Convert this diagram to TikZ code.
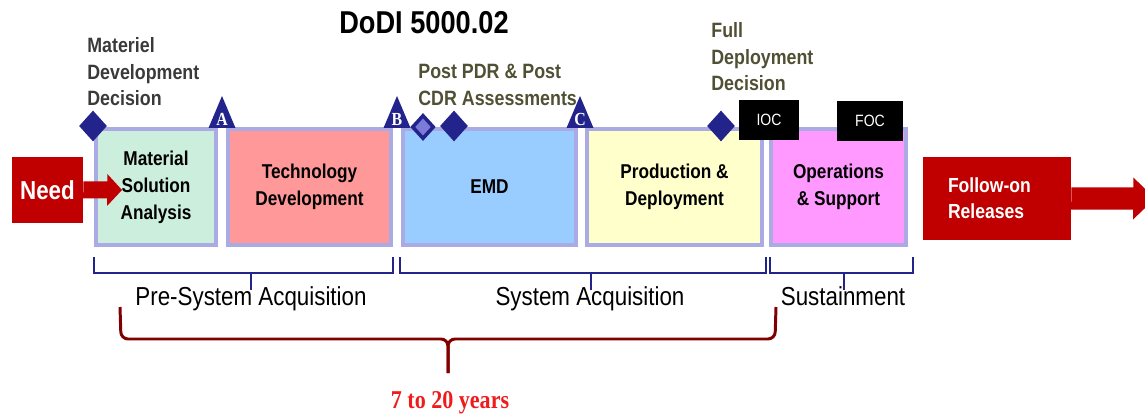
\documentclass[tikz,border=0pt]{standalone}
\usepackage{fontspec}
\setmainfont{Liberation Sans}[FakeStretch=0.86]
\newfontfamily\timesfont{Liberation Serif}[FakeStretch=0.86]
\usetikzlibrary{shapes.geometric}

\definecolor{msnavy}{HTML}{23238C}
\definecolor{mslight}{HTML}{7C7CD8}
\definecolor{phaseedge}{HTML}{AAAAE4}
\definecolor{msafill}{HTML}{CCEEDD}
\definecolor{tdfill}{HTML}{FF9999}
\definecolor{emdfill}{HTML}{99CCFF}
\definecolor{pdfill}{HTML}{FFFFCC}
\definecolor{osfill}{HTML}{FF99FF}
\definecolor{needred}{HTML}{C00000}
\definecolor{bracered}{HTML}{800000}
\definecolor{yrsred}{HTML}{EE1C1C}
\definecolor{mdgray}{HTML}{3A3A3A}
\definecolor{olivetext}{HTML}{505034}

\begin{document}
\begin{tikzpicture}[x=0.02cm, y=-0.02cm,
    phase/.style={rectangle, draw=phaseedge, line width=2.3pt, minimum height=2.32cm, inner sep=0pt, align=center, font=\fontsize{11.4}{15.3}\selectfont\bfseries},
    redbox/.style={rectangle, fill=needred, text=white, inner sep=0pt, font=\bfseries},
    msdiamond/.style={diamond, fill=msnavy, minimum width=0.56cm, minimum height=0.62cm, inner sep=0pt},
    mslabel/.style={anchor=north west, inner sep=0pt, align=left, text=olivetext, font=\fontsize{11.8}{15.2}\selectfont\bfseries},
    msletter/.style={inner sep=0pt, text=white, font=\timesfont\fontsize{10.5}{11}\selectfont\bfseries},
    capbox/.style={rectangle, fill=black, text=white, minimum height=0.8cm, inner sep=0pt, font=\fontsize{9.3}{10}\selectfont},
    bracket/.style={draw=msnavy, line width=1.1pt},
    phaselabel/.style={anchor=base, inner sep=0pt, font=\fontsize{14.8}{16}\selectfont},
    yrbrace/.style={draw=bracered, line width=1.7pt, rounded corners=4pt}]
    \useasboundingbox (0,0) rectangle (1145,415);

    % Title
    \node[font=\fontsize{18}{20}\selectfont\bfseries] (TITLE) at (424,23) {DoDI 5000.02};

    % Phases
    \node[phase, fill=msafill, minimum width=2.4cm] (MSA) at (156,187) {Material\\Solution\\Analysis};
    \node[phase, fill=tdfill, minimum width=3.26cm] (TD) at (309.5,187) {Technology\\Development};
    \node[phase, fill=emdfill, minimum width=3.46cm] (EMD) at (489.5,187) {EMD};
    \node[phase, fill=pdfill, minimum width=3.5cm] (PD) at (674.5,187) {Production \&\\Deployment};
    \node[phase, fill=osfill, minimum width=2.7cm] (OS) at (838.5,187) {Operations\\\& Support};

    % Need and follow-on releases
    \node[redbox, minimum width=1.42cm, minimum height=1.32cm, font=\fontsize{14.8}{16}\selectfont\bfseries] (NEED) at (47.5,190) {Need};
    \node[redbox, minimum width=2.96cm, minimum height=1.66cm, inner xsep=0.5cm, text width=1.96cm, align=left, font=\fontsize{11.6}{14.7}\selectfont\bfseries] (REL) at (997,198.5) {Follow-on\\Releases};
    \coordinate (NEEDTIP) at (122,190);
    \coordinate (RELTIP) at (1155,198.5);
    \fill[needred] (NEED.east) -- ++(0,-8.5) -- ++(24,0) -- ++(0,-7.5) -- (NEEDTIP) -- ++(-15,16) -- ++(0,-7.5) -- ++(-24,0) -- cycle;
    \fill[needred] (REL.east) -- ++(0,-11) -- ++(62,0) -- ++(0,-10) -- (RELTIP) -- ++(-22,21) -- ++(0,-10) -- ++(-62,0) -- cycle;

    % Milestones A, B, C
    \foreach \x/\l in {222/A, 397/B, 580/C} {
        \fill[msnavy] (\x-13.5,128) -- (\x,96) -- (\x+13.5,128) -- cycle;
        \node[msletter] (MS\l) at (\x,119) {\l};
    }

    % Decision points
    \node[msdiamond] (MDD) at (93,126) {};
    \node[msdiamond, fill=mslight, draw=msnavy, line width=2pt, minimum width=0.44cm, minimum height=0.48cm] (PDR) at (423,127) {};
    \node[msdiamond] (CDR) at (454,126) {};
    \node[msdiamond] (FDD) at (721,126) {};
    \node[capbox, minimum width=1.2cm] (IOC) at (769,120) {IOC};
    \node[capbox, minimum width=1.32cm] (FOC) at (870,121) {FOC};

    \node[mslabel, text=mdgray] (MDDtxt) at (87,37) {Materiel\\Development\\Decision};
    \node[mslabel] (PDRtxt) at (418,64) {Post PDR \& Post\\CDR Assessments};
    \node[mslabel] (FDDtxt) at (711,22) {Full\\Deployment\\Decision};

    % Acquisition brackets
    \foreach \a/\m/\b in {94/251/393, 400/591/766, 770/844/913} {
        \draw[bracket] (\a,257) |- (\b,273) -- (\b,257);
        \draw[bracket] (\m,273) -- (\m,290);
    }
    \node[phaselabel] (PRE) at (251,305) {Pre-System Acquisition};
    \node[phaselabel] (SYS) at (590,305) {System Acquisition};
    \node[phaselabel] (SUS) at (843,305) {Sustainment};

    % 7 to 20 years
    \draw[yrbrace] (120,307) -- (121,339) -- (448,339) -- (448,373);
    \draw[yrbrace] (776,307) -- (775,339) -- (448,339) -- (448,373);
    \node[anchor=base, inner sep=0pt, text=yrsred, font=\timesfont\fontsize{14.6}{16}\selectfont\bfseries] (YRS) at (450,408) {7 to 20 years};
\end{tikzpicture}
\end{document}
